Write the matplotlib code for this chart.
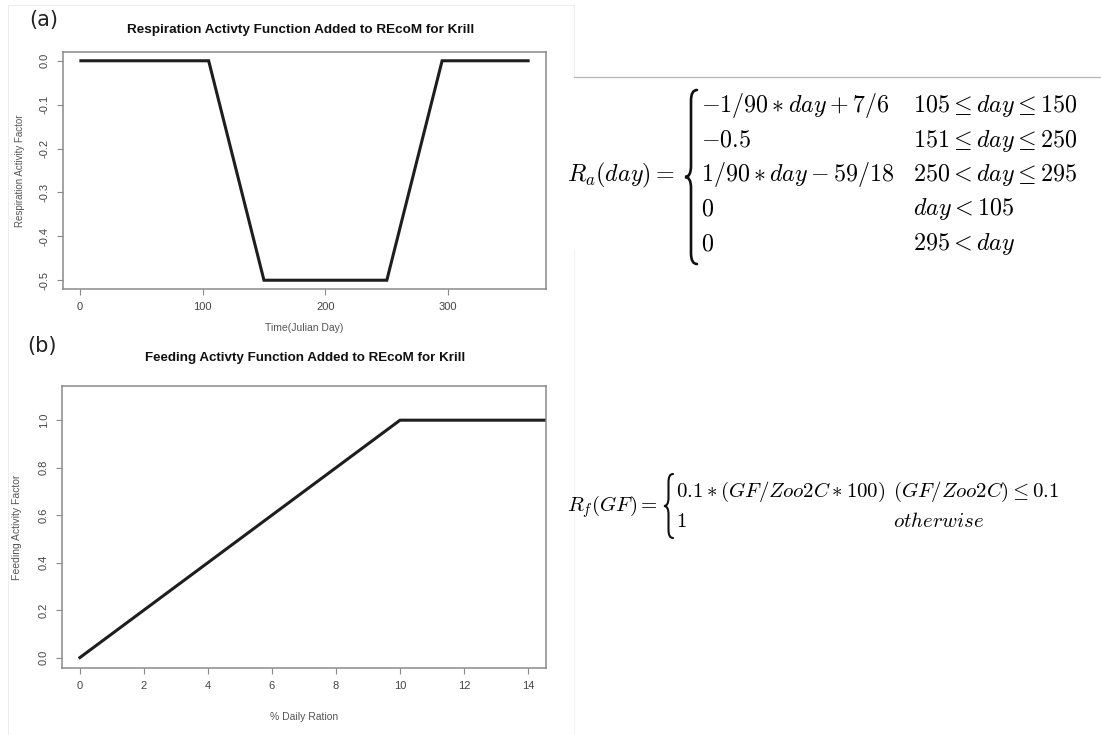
import matplotlib
matplotlib.use("Agg")
import matplotlib.pyplot as plt
from matplotlib.path import Path
from matplotlib.patches import PathPatch
from matplotlib.lines import Line2D

# ---------------- data ----------------
resp_day = [1, 105, 150, 250, 295, 365]
resp_factor = [0.0, 0.0, -0.5, -0.5, 0.0, 0.0]
resp_xticks = [0, 100, 200, 300]
resp_yticks = [0.0, -0.1, -0.2, -0.3, -0.4, -0.5]

feed_ration = [0, 1, 2, 3, 4, 5, 6, 7, 8, 9, 10, 11, 12, 13, 14, 15, 16, 17, 18, 19, 20]
feed_factor = [0.0, 0.1, 0.2, 0.3, 0.4, 0.5, 0.6, 0.7, 0.8, 0.9, 1.0,
               1.0, 1.0, 1.0, 1.0, 1.0, 1.0, 1.0, 1.0, 1.0, 1.0]
feed_xticks = [0, 2, 4, 6, 8, 10, 12, 14]
feed_yticks = [0.0, 0.2, 0.4, 0.6, 0.8, 1.0]

title_a = "Respiration Activty Function Added to REcoM for Krill"
title_b = "Feeding Activty Function Added to REcoM for Krill"
xlabel_a = "Time(Julian Day)"
ylabel_a = "Respiration Activity Factor"
xlabel_b = "% Daily Ration"
ylabel_b = "Feeding Activity Factor"

ra_lhs = r"$R_a(day) =$"
ra_expr = [r"$-1/90 \ast day + 7/6$", r"$-0.5$", r"$1/90 \ast day - 59/18$", r"$0$", r"$0$"]
ra_cond = [r"$105 \leq day \leq 150$", r"$151 \leq day \leq 250$",
           r"$250 < day \leq 295$", r"$day < 105$", r"$295 < day$"]
rf_lhs = r"$R_f(GF) =$"
rf_expr = [r"$0.1 \ast (GF/Zoo2C \ast 100)$", r"$1$"]
rf_cond = [r"$(GF/Zoo2C) \leq 0.1$", r"$otherwise$"]

# ---------------- figure ----------------
W, H = 1101, 735
plt.rcParams['mathtext.fontset'] = 'cm'
plt.rcParams['font.family'] = ['Liberation Sans', 'DejaVu Sans']
fig = plt.figure(figsize=(W / 100, H / 100), dpi=100)
fig.patch.set_facecolor('white')


def fx(x):
    return x / W


def fy(y):
    return (H - y) / H


def style_axes(ax):
    for s in ax.spines.values():
        s.set_color('#8a8a8a')
        s.set_linewidth(1.1)
    ax.tick_params(direction='out', length=4.5, width=0.8, color='#8a8a8a',
                   labelsize=8, labelcolor='#444444', pad=5)
    for lab in ax.get_yticklabels():
        lab.set_rotation(90)
        lab.set_va('center')


# panel (a)
ax1 = fig.add_axes([fx(63), fy(289), fx(546) - fx(63), fy(52) - fy(289)])
ax1.plot(resp_day, resp_factor, color='#1e1e1e', lw=2.2, solid_joinstyle='miter')
ax1.set_xlim(-13.56, 379.56)
ax1.set_ylim(-0.52, 0.02)
ax1.set_xticks(resp_xticks)
ax1.set_yticks(resp_yticks)
ax1.set_yticklabels([f"{v:.1f}" for v in resp_yticks])
style_axes(ax1)
ax1.set_xlabel(xlabel_a, fontsize=7.5, color='#555555', labelpad=8)
ax1.set_ylabel(ylabel_a, fontsize=7, color='#555555', labelpad=11)

# panel (b)
ax2 = fig.add_axes([fx(62), fy(668), fx(546) - fx(62), fy(386) - fy(668)])
ax2.plot(feed_ration, feed_factor, color='#1e1e1e', lw=2.2, solid_joinstyle='miter')
ax2.set_xlim(-0.56, 14.56)
ax2.set_ylim(-0.044, 1.144)
ax2.set_xticks(feed_xticks)
ax2.set_yticks(feed_yticks)
ax2.set_yticklabels([f"{v:.1f}" for v in feed_yticks])
style_axes(ax2)
ax2.set_xlabel(xlabel_b, fontsize=7.5, color='#555555', labelpad=15)
ax2.set_ylabel(ylabel_b, fontsize=7.5, color='#555555', labelpad=12)

# titles and panel letters
fig.text(fx(301), fy(30), title_a, fontsize=9.7, fontweight='bold', ha='center', va='center', color='#111111')
fig.text(fx(305), fy(358), title_b, fontsize=9.6, fontweight='bold', ha='center', va='center', color='#111111')
fig.text(fx(29), fy(20), "(a)", fontsize=15, ha='left', va='center', family='DejaVu Sans', color='#222222')
fig.text(fx(27), fy(346), "(b)", fontsize=15, ha='left', va='center', family='DejaVu Sans', color='#222222')


# faint screenshot borders
def fline(xs, ys, color, lw):
    fig.add_artist(Line2D([fx(x) for x in xs], [fy(y) for y in ys], color=color, lw=lw,
                          transform=fig.transFigure))


fline([8, 574, 574], [5, 5, 77], '#eeeeee', 0.8)
fline([8, 8], [5, 735], '#eeeeee', 0.8)
fline([574, 1101], [77, 77], '#b5b5b5', 0.9)
fline([574, 574], [250, 735], '#f4f4f4', 0.8)


def brace(x, y0, y1, w, lw=1.6):
    ym = (y0 + y1) / 2
    xr, xm, xl = x + w, x + w * 0.5, x
    r = w * 0.9
    verts = [(xr, y0), (xm, y0), (xm, y0 + r), (xm, y0 + r),
             (xm, ym - r), (xm, ym), (xl, ym),
             (xm, ym), (xm, ym + r),
             (xm, y1 - r), (xm, y1 - r), (xm, y1), (xr, y1)]
    codes = [Path.MOVETO, Path.CURVE3, Path.CURVE3, Path.LINETO,
             Path.LINETO, Path.CURVE3, Path.CURVE3,
             Path.CURVE3, Path.CURVE3,
             Path.LINETO, Path.LINETO, Path.CURVE3, Path.CURVE3]
    verts = [(fx(a), fy(b)) for a, b in verts]
    fig.add_artist(PathPatch(Path(verts, codes), fill=False, lw=lw, color='#111111',
                             transform=fig.transFigure, capstyle='round'))


# R_a equation
ra_size = 17.3
ra_rows = [112, 146.5, 181, 215.5, 250]
fig.text(fx(567), fy(181), ra_lhs, fontsize=ra_size, ha='left', va='baseline')
brace(685, 90, 264, 12, lw=1.9)
for yb, e, c in zip(ra_rows, ra_expr, ra_cond):
    fig.text(fx(701), fy(yb), e, fontsize=ra_size, ha='left', va='baseline')
    fig.text(fx(913), fy(yb), c, fontsize=ra_size, ha='left', va='baseline')

# R_f equation
rf_size = 15
rf_rows = [496.5, 527]
fig.text(fx(567), fy(511.5), rf_lhs, fontsize=rf_size, ha='left', va='baseline')
brace(664, 474, 538, 9, lw=1.5)
for yb, e, c in zip(rf_rows, rf_expr, rf_cond):
    fig.text(fx(676), fy(yb), e, fontsize=rf_size, ha='left', va='baseline')
    fig.text(fx(893), fy(yb), c, fontsize=rf_size, ha='left', va='baseline')

fig.savefig("out.png", dpi=100, facecolor='white')
